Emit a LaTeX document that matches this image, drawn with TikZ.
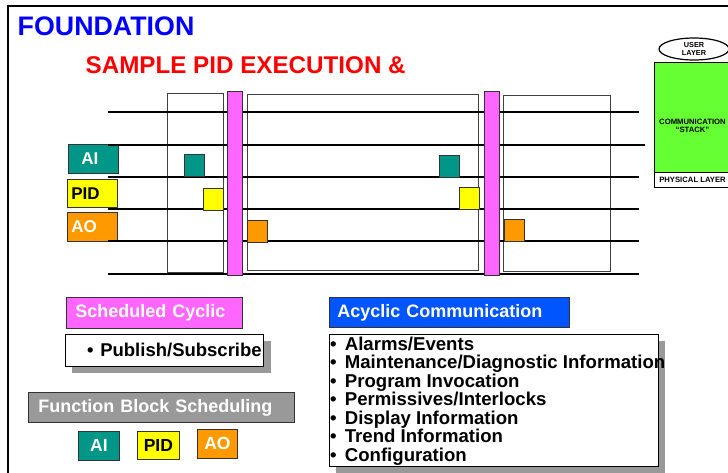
\documentclass[tikz,border=0pt]{standalone}
\usepackage{fontspec}
\setmainfont{Liberation Sans}
\usetikzlibrary{positioning,shapes.geometric}

\definecolor{fbteal}{RGB}{0,150,136}
\definecolor{fbyellow}{RGB}{255,255,0}
\definecolor{fborange}{RGB}{255,153,0}
\definecolor{fbpink}{RGB}{255,102,255}
\definecolor{fbgreen}{RGB}{102,255,51}
\definecolor{fbblue}{RGB}{0,85,255}
\definecolor{fbgray}{RGB}{153,153,153}

\begin{document}
\begin{tikzpicture}[
      x=1pt, y=-1pt,
      every node/.style={inner sep=0pt},
      slot/.style={draw=black!75,line width=0.7pt,fill=white,anchor=north west},
      row/.style={line width=1.3pt},
      tick/.style={draw=black!80,line width=0.8pt,anchor=north west,minimum width=19.5pt,minimum height=22pt},
      bar/.style={draw=black!80,line width=0.8pt,fill=fbpink,anchor=north west,minimum width=15pt,minimum height=184pt},
      tag/.style={draw=black!80,line width=0.8pt,anchor=north west,align=left,font=\bfseries\fontsize{17}{17}\selectfont},
      hdr/.style={draw=black!80,line width=0.8pt,anchor=north west,text=white,align=left,font=\bfseries\fontsize{18}{18}\selectfont},
      card/.style={draw=black,line width=0.8pt,fill=white,anchor=north west},
      shade/.style={fill=fbgray,anchor=north west},
      tiny/.style={font=\bfseries\fontsize{7.7}{8.5}\selectfont,align=center},
    ]
    \useasboundingbox (0,0) rectangle (728,472);
    \draw[line width=2pt] (8,6) rectangle (790,520);

    \node[anchor=base west,text=blue,font=\bfseries\fontsize{26.8}{26.8}\selectfont] (title) at (17.5,35) {FOUNDATION};
    \node[anchor=base west,text=red,font=\bfseries\fontsize{24.2}{24.2}\selectfont] (subtitle) at (85.5,73) {SAMPLE PID EXECUTION \&};

    % macro cycle
    \node[slot,minimum width=56pt,minimum height=179pt] (slotA) at (167,93) {};
    \node[slot,minimum width=231pt,minimum height=176pt] (slotB) at (247,94) {};
    \node[slot,minimum width=107pt,minimum height=176pt] (slotC) at (503,95) {};

    \node[tag,fill=fbteal,text=white,text width=24pt,inner xsep=13pt,minimum height=29pt] (ai) at (68,144) {AI};
    \node[tag,fill=fbyellow,text width=42pt,inner xsep=4pt,minimum height=28pt] (pid) at (67,179) {PID};
    \node[tag,fill=fborange,text=white,text width=42pt,inner xsep=4pt,minimum height=29pt] (ao) at (67,212) {AO};

    \foreach \y/\e in {112/639,145/645,177/639,209/639,241/639,274/639}
      \draw[row] (108,\y) -- (\e,\y);

    \node[tick,fill=fbteal] (ai1) at (184,154) {};
    \node[tick,fill=fbyellow] (pid1) at (203,188) {};
    \node[tick,fill=fborange] (ao1) at (247,220) {};
    \node[tick,fill=fbteal] (ai2) at (439,155) {};
    \node[tick,fill=fbyellow] (pid2) at (459,187) {};
    \node[tick,fill=fborange] (ao2) at (504,219) {};

    \node[bar] (bar1) at (227,91) {};
    \node[bar] (bar2) at (484,91) {};

    % stack
    \node[draw,line width=1.2pt,ellipse,minimum width=70pt,minimum height=22pt,font=\bfseries\fontsize{7.3}{8}\selectfont,align=center] (user) at (694,49) {USER\\LAYER};
    \node[draw,line width=1.2pt,fill=fbgreen,anchor=north west,minimum width=77pt,minimum height=110pt] (stack) at (654,62) {};
    \node[tiny] (stacktxt) at (692.5,126) {COMMUNICATION\\``STACK''};
    \node[draw,line width=1.2pt,fill=white,anchor=north west,minimum width=77pt,minimum height=15pt] (phys) at (654,172) {};
    \node[tiny] (physt) at (692.5,180) {PHYSICAL LAYER};

    % legend
    \node[hdr,fill=fbpink,text width=158pt,inner xsep=9pt,minimum height=31pt] (sched) at (66,297) {Scheduled Cyclic};
    \node[shade,minimum width=199pt,minimum height=32pt] (pubshade) at (72,341) {};
    \node[card,minimum width=198pt,minimum height=32pt] (pubbox) at (65,334) {};
    \node[anchor=west,font=\bfseries\fontsize{18.5}{18.5}\selectfont] (pub) at (87,350) {•\hspace{1.5pt} Publish/Subscribe};

    \node[hdr,fill=fbgray,text width=246pt,inner xsep=10pt,minimum height=30pt] (fbs) at (28,392) {Function Block Scheduling};
    \node[tag,fill=fbteal,text=white,align=center,minimum width=41pt,minimum height=29pt,font=\bfseries\fontsize{17.5}{17.5}\selectfont] (ai0) at (78,431) {AI};
    \node[tag,fill=fbyellow,align=center,minimum width=42pt,minimum height=28pt,font=\bfseries\fontsize{17.5}{17.5}\selectfont] (pid0) at (137,431) {PID};
    \node[tag,fill=fborange,text=white,align=center,minimum width=40pt,minimum height=29pt,font=\bfseries\fontsize{17.5}{17.5}\selectfont] (ao0) at (197,429) {AO};

    \node[hdr,fill=fbblue,text width=224pt,inner xsep=8pt,minimum height=30pt] (acyc) at (329,297) {Acyclic Communication};
    \node[shade,minimum width=329pt,minimum height=132pt] (listshade) at (336,341) {};
    \node[card,minimum width=329pt,minimum height=132pt] (listbox) at (329,334) {};
    \node[anchor=north west,align=left,font=\bfseries\fontsize{18.6}{18.5}\selectfont] (list) at (330,336.5) {•\hspace{3pt} Alarms/Events\\•\hspace{3pt} Maintenance/Diagnostic Information\\•\hspace{3pt} Program Invocation\\•\hspace{3pt} Permissives/Interlocks\\•\hspace{3pt} Display Information\\•\hspace{3pt} Trend Information\\•\hspace{3pt} Configuration};
  \end{tikzpicture}
\end{document}
